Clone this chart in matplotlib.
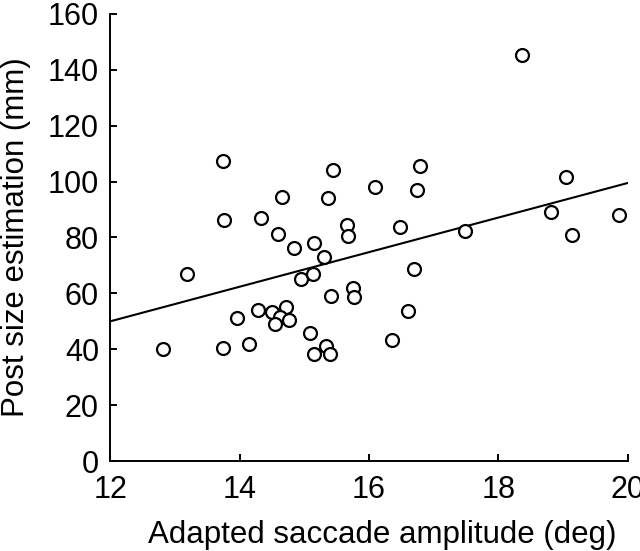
import numpy as np
import matplotlib
matplotlib.use("Agg")
import matplotlib.pyplot as plt

plt.rcParams['font.family'] = ['Liberation Sans', 'DejaVu Sans']

# amplitud sacadica adaptada (deg) vs estimacion de tamano (mm)
amplitud = [13.74, 15.45, 16.09, 14.66, 15.36, 13.76, 14.33, 15.66, 14.60, 15.67,
            14.84, 15.15, 15.30, 13.19, 14.95, 15.13, 15.41, 15.75, 15.77, 13.96,
            14.29, 14.50, 14.72, 14.62, 14.55, 14.76, 12.81, 13.74, 14.14, 15.09,
            15.15, 15.33, 15.40, 18.37, 16.79, 16.74, 19.05, 16.48, 17.49, 18.82,
            19.87, 19.14, 16.69, 16.60, 16.35]
tamano = [107.4, 104.0, 97.9, 94.3, 94.0, 86.3, 87.1, 84.3, 81.3, 80.5,
          76.2, 78.1, 73.0, 66.8, 65.2, 67.0, 59.2, 61.8, 58.8, 51.2,
          53.9, 53.2, 55.1, 51.7, 49.0, 50.4, 40.2, 40.4, 41.9, 45.8,
          38.2, 41.2, 38.2, 145.2, 105.7, 97.0, 101.5, 83.7, 82.4, 89.0,
          87.9, 80.8, 68.8, 53.8, 43.2]

# recta de regresion (extremos)
recta_x = [12, 20]
recta_y = [50.0, 99.5]

fig = plt.figure(figsize=(6.4, 5.51), dpi=100)
ax = fig.add_axes([0.172, 0.163, 0.809, 0.812])

ax.plot(recta_x, recta_y, color='black', linewidth=1.5)
ax.plot(amplitud, tamano, 'o', markersize=9.3, markerfacecolor='white',
        markeredgecolor='black', markeredgewidth=1.6, linestyle='none')

ax.set_xlim(12, 20)
ax.set_ylim(0, 160)
ax.set_xticks([12, 14, 16, 18, 20])
ax.set_yticks(range(0, 161, 20))
for s in ['top', 'right']:
    ax.spines[s].set_visible(False)
for s in ['left', 'bottom']:
    ax.spines[s].set_linewidth(1.4)
ax.tick_params(direction='in', length=5, width=1.4, labelsize=22, pad=8)
ax.tick_params(axis='x', pad=10)

ax.set_xlabel("Adapted saccade amplitude (deg)", fontsize=22.5, labelpad=11)
ax.xaxis.label.set_x(0.525)
ax.set_ylabel("Post size estimation (mm)", fontsize=22.5, labelpad=12)

fig.savefig("out.png", dpi=100)
